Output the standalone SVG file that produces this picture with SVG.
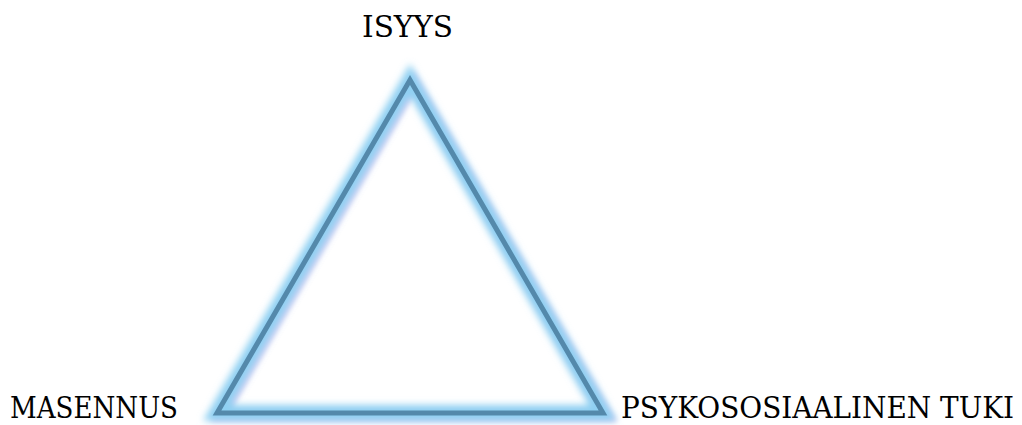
<svg xmlns="http://www.w3.org/2000/svg" width="1022" height="425" viewBox="0 0 1022 425">
  <style>
    text { font-family: "DejaVu Serif", serif; font-size: 29.5px; fill: #000; }
  </style>
  <defs>
    <filter id="glow" x="-20%" y="-20%" width="140%" height="140%">
      <feGaussianBlur stdDeviation="3.5"/>
    </filter>
    <filter id="glow2" x="-20%" y="-20%" width="140%" height="140%">
      <feGaussianBlur stdDeviation="2.5"/>
    </filter>
  </defs>
  <g id="triangle">
    <polygon points="410,80 217,413 603,413" fill="none" stroke="#b9a8ea" stroke-opacity="0.55" stroke-width="12" filter="url(#glow2)" transform="translate(4,3)"/>
    <polygon points="410,80 217,413 603,413" fill="none" stroke="#8fd0f2" stroke-width="16" filter="url(#glow)"/>
    <polygon points="410,80 217,413 603,413" fill="none" stroke="#5489ab" stroke-width="5"/>
  </g>
  <g id="isyys"><text x="362" y="37" textLength="91" lengthAdjust="spacingAndGlyphs">ISYYS</text></g>
  <g id="masennus"><text x="10" y="418" textLength="168" lengthAdjust="spacingAndGlyphs">MASENNUS</text></g>
  <g id="tuki"><text transform="translate(621,418) scale(1,1.18)" x="0" y="0" style="font-size:25px" textLength="393" lengthAdjust="spacingAndGlyphs">PSYKOSOSIAALINEN TUKI</text></g>
</svg>
